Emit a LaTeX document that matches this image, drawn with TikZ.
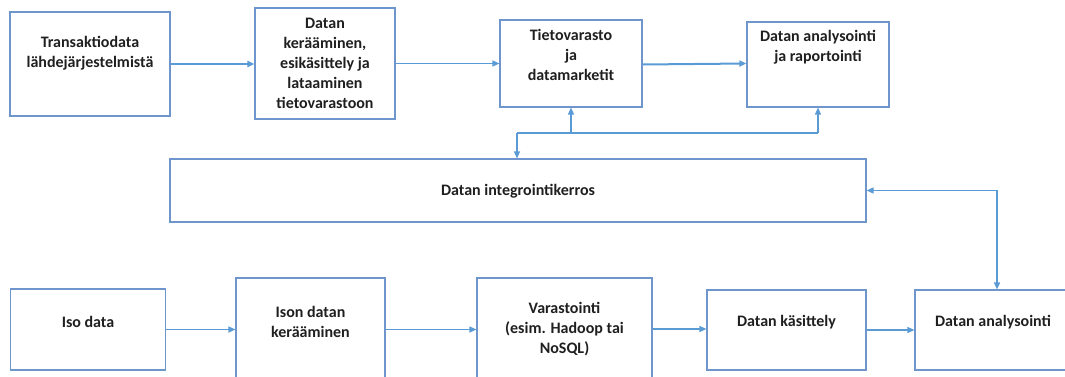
\documentclass[tikz,border=0pt]{standalone}
\usepackage{fontspec}
\setmainfont{Carlito}
\usetikzlibrary{arrows.meta}
\definecolor{boxc}{RGB}{110,150,205}
\definecolor{arrc}{RGB}{91,155,213}
\tikzset{
  box/.style={draw=boxc, line width=1.1pt, rectangle, inner sep=0pt},
  lbl/.style={align=center, font=\bfseries\fontsize{16}{20}\selectfont, inner sep=0pt, text=black!88},
  conn/.style={draw=arrc, line width=1.2pt, -{Triangle[length=7pt,width=6pt]}},
  thickconn/.style={draw=arrc, line width=2pt, -{Triangle[length=7pt,width=6pt]}},
  plain/.style={draw=arrc, line width=1.5pt},
}
\begin{document}
\begin{tikzpicture}[x=1pt,y=-1pt]
\useasboundingbox (0,0) rectangle (1065,377);
\clip (0,0) rectangle (1065,377);
% top row boxes
\node[box, minimum width=160pt, minimum height=104pt] (b1) at (90,64) {};
\node[box, minimum width=140pt, minimum height=111pt] (b2) at (325,63.5) {};
\node[box, minimum width=142pt, minimum height=87pt] (b3) at (571,63.5) {};
\node[box, minimum width=142pt, minimum height=85pt] (b4) at (818,64.5) {};
% integration layer
\node[box, minimum width=696pt, minimum height=63pt] (ig) at (518,190.5) {};
% bottom row boxes
\node[box, minimum width=155pt, minimum height=81pt] (b5) at (88,329.5) {};
\node[box, minimum width=149pt, minimum height=102pt] (b6) at (310.5,329) {};
\node[box, minimum width=175pt, minimum height=102pt] (b7) at (564.5,329) {};
\node[box, minimum width=159pt, minimum height=80pt] (b8) at (786.5,330) {};
\node[box, minimum width=164pt, minimum height=80pt] (b9) at (997,330) {};
% labels
\node[lbl] (t1) at (90,53) {Transaktiodata\\lähdejärjestelmistä};
\node[lbl] (t2) at (325,63) {Datan\\kerääminen,\\esikäsittely ja\\lataaminen\\tietovarastoon};
\node[lbl] (t3) at (571,55) {Tietovarasto\\ja\\datamarketit};
\node[lbl] (t4) at (818,47) {Datan analysointi\\ja raportointi};
\node[lbl] (tig) at (518,191) {Datan integrointikerros};
\node[lbl] (t5) at (88,322) {Iso data};
\node[lbl] (t6) at (310.5,321.5) {Ison datan\\kerääminen};
\node[lbl] (t7) at (564.5,329) {Varastointi\\(esim. Hadoop tai\\NoSQL)};
\node[lbl] (t8) at (786.5,322) {Datan käsittely};
\node[lbl] (t9) at (993,322) {Datan analysointi};
% top row arrows
\draw[thickconn] (b1.east) -- (b1.east -| b2.west);
\draw[conn] (b2.east |- b3.west) -- (b3.west);
\draw[thickconn] (b3.east |- b4.west) -- (b3.east -| b4.west);
% middle connector
\coordinate (jl) at (517,133);
\coordinate (jm) at (571,133);
\coordinate (jr) at (818,133);
\draw[plain] (jl) -- (jr);
\draw[conn] (jm) -- (b3.south);
\draw[conn] (jr) -- (b4.south);
\draw[conn] (jl) -- (jl |- ig.north);
% right connector
\draw[draw=arrc, line width=1.5pt, {Triangle[length=7pt,width=6pt]}-{Triangle[length=7pt,width=6pt]}] (ig.east) -- (ig.east -| b9.north) -- (b9.north);
% bottom row arrows
\draw[conn] (b5.east) -- (b5.east -| b6.west);
\draw[conn] (b6.east |- b5.east) -- (b5.east -| b7.west);
\draw[conn] (b7.east) -- (b7.east -| b8.west);
\draw[conn] (b8.east) -- (b8.east -| b9.west);
\end{tikzpicture}
\end{document}
